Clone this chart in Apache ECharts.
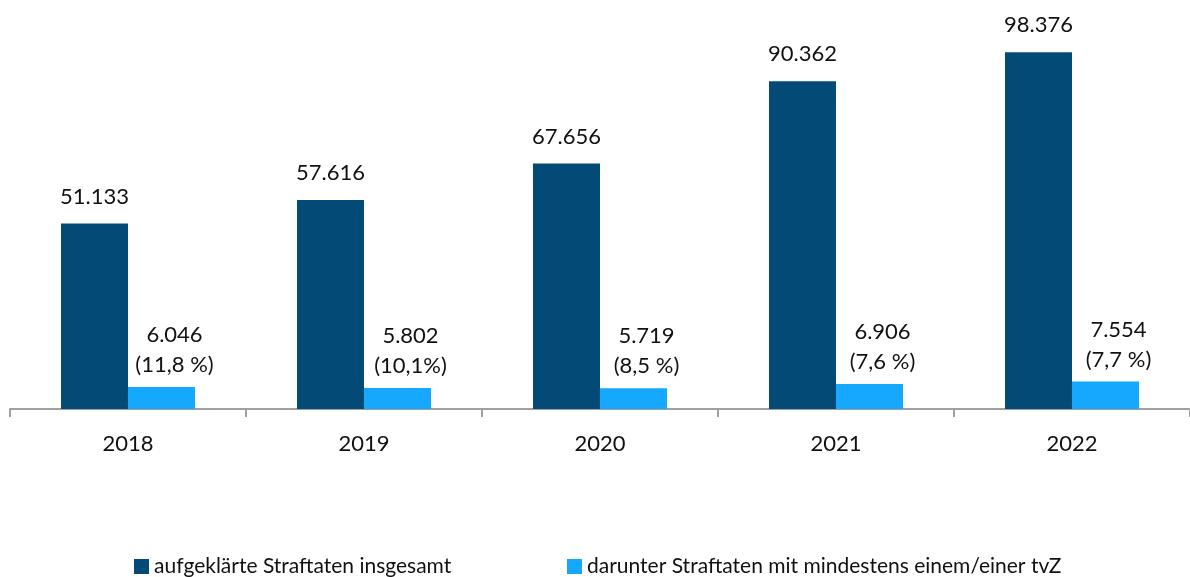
<!DOCTYPE html>
<html>
<head>
<meta charset="utf-8">
<script src="https://cdn.jsdelivr.net/npm/echarts@6/dist/echarts.min.js"></script>
<style>html,body{margin:0;padding:0;background:#fff;}#c{width:1190px;height:577px;}</style>
</head>
<body>
<div id="c"></div>
<script>
const categories = ['2018', '2019', '2020', '2021', '2022'];
const totalSolved = [51133, 57616, 67656, 90362, 98376];
const withTvZ = [6046, 5802, 5719, 6906, 7554];
const shareLabels = ['(11,8 %)', '(10,1%)', '(8,5 %)', '(7,6 %)', '(7,7 %)'];
const seriesNames = ['aufgeklärte Straftaten insgesamt', 'darunter Straftaten mit mindestens einem/einer tvZ'];

const fmt = v => v.toLocaleString('de-DE');
const FONT = 'Lato';
const TXT = '#111';
const legendBase = {
  top: 551, itemWidth: 15, itemHeight: 15, icon: 'rect',
  textStyle: {fontFamily: FONT, fontSize: 21, color: TXT}
};
const chart = echarts.init(document.getElementById('c'), null, {renderer: 'canvas'});
chart.setOption({
  animation: false,
  textStyle: {fontFamily: FONT},
  grid: {left: 10, right: 0, top: 10, bottom: 168},
  legend: [
    Object.assign({left: 129, data: [seriesNames[0]]}, legendBase),
    Object.assign({left: 562, data: [seriesNames[1]]}, legendBase)
  ],
  xAxis: {
    type: 'category',
    data: categories,
    axisLine: {lineStyle: {color: '#a0a0a0', width: 2}},
    axisTick: {show: true, length: 8, lineStyle: {color: '#a0a0a0', width: 2}},
    axisLabel: {fontFamily: FONT, fontSize: 22, color: TXT, margin: 24}
  },
  yAxis: {type: 'value', min: 0, max: 110000, show: false, splitLine: {show: false}},
  series: [
    {
      name: seriesNames[0], type: 'bar', data: totalSolved,
      barWidth: 67, barGap: '0%',
      itemStyle: {color: '#034b76'},
      label: {show: true, position: 'top', distance: 16, fontFamily: FONT, fontSize: 22, color: TXT,
        formatter: p => fmt(p.value)}
    },
    {
      name: seriesNames[1], type: 'bar', data: withTvZ,
      barWidth: 67,
      itemStyle: {color: '#16a8fe'},
      label: {show: true, position: 'top', distance: 7, offset: [13, 0], fontFamily: FONT, fontSize: 22, lineHeight: 30, color: TXT,
        formatter: p => fmt(p.value) + '\n' + shareLabels[p.dataIndex]}
    }
  ]
});
</script>
</body>
</html>
